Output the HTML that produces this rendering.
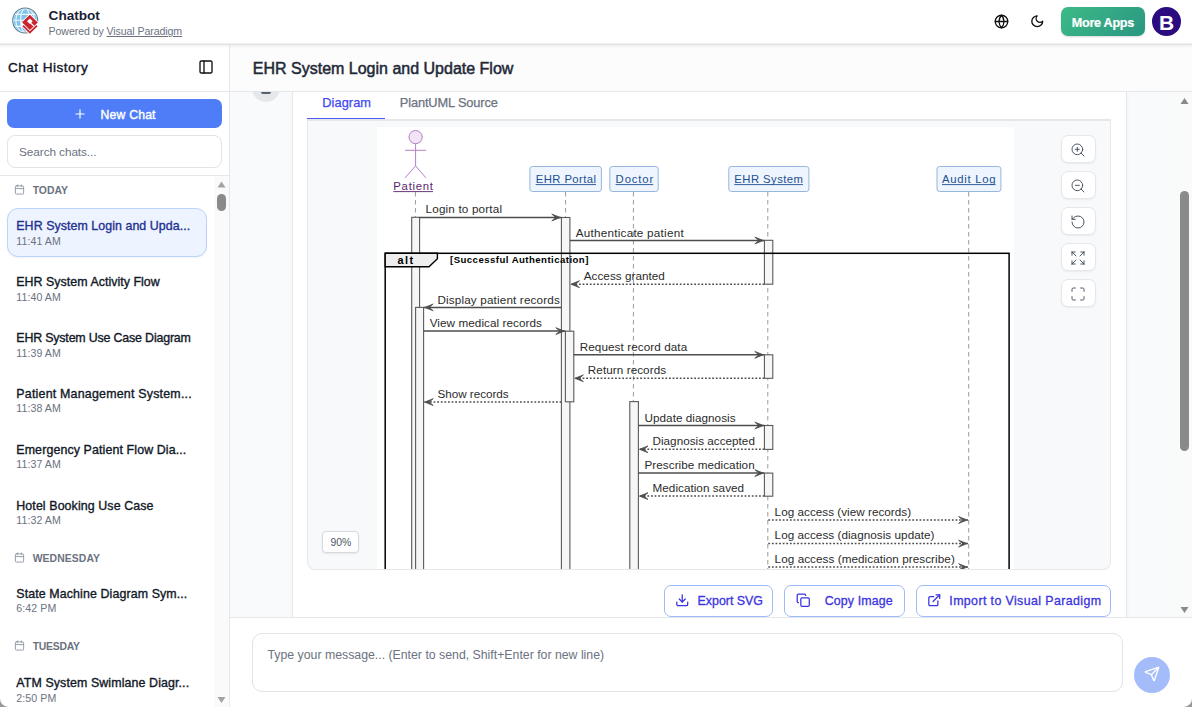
<!DOCTYPE html>
<html><head><meta charset="utf-8">
<style>
*{box-sizing:border-box;margin:0;padding:0}
html,body{width:1192px;height:707px;overflow:hidden;background:#fff;font-family:"Liberation Sans",sans-serif;color:#1f2937}
.abs{position:absolute}
.t{position:absolute;white-space:nowrap;line-height:1}
</style></head>
<body>
<div class="abs" style="left:0;top:0;width:1192px;height:45px;background:#fff;border-bottom:1px solid #e2e3e6;box-shadow:0 1px 3px rgba(0,0,0,.07), inset 0 -1px 0 #f0f1f3;z-index:5"></div>
<div class="abs" style="left:0;top:0;width:1192px;height:44px;z-index:6">
  <svg class="abs" style="left:0;top:0" width="44" height="44" viewBox="0 0 44 44">
    <defs><clipPath id="gc"><circle cx="25.2" cy="20.5" r="11.6"/></clipPath></defs>
    <circle cx="25.2" cy="20.5" r="12.5" fill="#f4fafe" stroke="#587d90" stroke-width="1.1"/>
    <g clip-path="url(#gc)">
      <rect x="13" y="8" width="25" height="25" fill="#7fc4ef"/>
      <g fill="none" stroke="#eef7fd" stroke-width="1.1">
        <path d="M12 14.4H38M12 20.3H38M12 26.4H38"/>
        <ellipse cx="25.2" cy="20.5" rx="4.6" ry="12"/>
        <ellipse cx="25.2" cy="20.5" rx="9.4" ry="12"/>
      </g>
    </g>
    <path d="M29.85 13.6L38.9 22.4L38.7 26.2L29.85 34.9L21.3 26.2L20.9 22.3Z" fill="#fff"/>
    <path d="M29.85 14.7L37.8 22.4L29.85 30.1L22 22.3Z" fill="#c9252f"/>
    <path d="M29.85 18.4L32.7 21.3L31.3 22.7L34.4 25.7L33.4 26.5L30.2 23.4L29.85 24L27 21.2Z" fill="#fff"/>
    <path d="M22.4 26.2L23.6 25.1L29.85 31.3L36.3 25L37.6 26.2L29.85 33.8Z" fill="#c9252f"/>
  </svg>
  <svg class="abs" style="left:993.6px;top:13.6px" width="15" height="15" viewBox="0 0 24 24" fill="none" stroke="#111" stroke-width="2.1" stroke-linecap="round" stroke-linejoin="round"><circle cx="12" cy="12" r="10"/><path d="M2 12h20"/><path d="M12 2a15.3 15.3 0 0 1 4 10 15.3 15.3 0 0 1-4 10 15.3 15.3 0 0 1-4-10 15.3 15.3 0 0 1 4-10z"/></svg>
  <svg class="abs" style="left:1029.9px;top:13.9px" width="14.5" height="14.5" viewBox="0 0 24 24" fill="none" stroke="#111" stroke-width="2.2" stroke-linecap="round" stroke-linejoin="round"><path d="M12 3a6 6 0 0 0 9 9 9 9 0 1 1-9-9Z"/></svg>
  <div class="abs" style="left:1061px;top:7px;width:84px;height:29px;border-radius:7px;background:linear-gradient(135deg,#3dbb87,#2a9682);box-shadow:0 1px 2px rgba(0,0,0,.15)"></div>
  <div class="abs" style="left:1152px;top:7px;width:29px;height:29px;border-radius:50%;background:#2b0b80"></div>
  <div class="t" style="left:1152px;top:11.5px;width:29px;text-align:center;font-size:21px;font-weight:bold;color:#fff">B</div>

<div class="t" style="left:48.6px;top:9.42px;font-size:13.6px;color:#1a2035;letter-spacing:-0.03px;font-weight:bold;">Chatbot</div>
<div class="t" style="left:48.6px;top:26.40px;font-size:10.6px;color:#6b7280;letter-spacing:-0.09px;">Powered by <span style="text-decoration:underline">Visual Paradigm</span></div>
<div class="t" style="left:1071.8px;top:16.98px;font-size:12.6px;color:#fff;letter-spacing:-0.27px;-webkit-text-stroke:0.2px #fff;font-weight:bold;">More Apps</div>
</div>
<div class="abs" style="left:0;top:44px;width:230px;height:663px;background:#fff;border-right:1px solid #e5e7eb"></div>
<div class="abs" style="left:0;top:91px;width:229px;height:1px;background:#e5e7eb"></div>
<svg class="abs" style="left:198px;top:59px" width="16" height="16" viewBox="0 0 24 24" fill="none" stroke="#111" stroke-width="2" stroke-linecap="round" stroke-linejoin="round"><rect width="18" height="18" x="3" y="3" rx="2"/><path d="M9 3v18"/></svg>
<div class="abs" style="left:7px;top:99px;width:215px;height:29px;border-radius:7px;background:#4f7cf7"></div>
<svg class="abs" style="left:73px;top:106.5px" width="14" height="14" viewBox="0 0 24 24" fill="none" stroke="#fff" stroke-width="2" stroke-linecap="round"><path d="M5 12h14M12 5v14"/></svg>
<div class="abs" style="left:7px;top:135px;width:215px;height:33px;border-radius:8px;border:1px solid #e0e3e8;background:#fff"></div>
<div class="abs" style="left:0;top:175px;width:229px;height:1px;background:#e5e7eb"></div>
<div class="abs" style="left:214px;top:176px;width:15px;height:531px;background:#fafafa"></div>
<svg class="abs" style="left:214px;top:176px" width="15" height="531"><path d="M3.5 11.5 L7.5 5.5 L11.5 11.5Z" fill="#a3a3a3"/><rect x="3" y="18" width="9" height="17" rx="4.5" fill="#8a8a8a"/><path d="M3.5 521 L7.5 527 L11.5 521Z" fill="#a3a3a3"/></svg>
<div class="t" style="left:7.9px;top:61.22px;font-size:13.6px;color:#111827;letter-spacing:0.47px;-webkit-text-stroke:0.4px #111827;">Chat History</div>
<div class="t" style="left:100.6px;top:108.95px;font-size:12.2px;color:#ffffff;letter-spacing:0.2px;-webkit-text-stroke:0.4px #ffffff;">New Chat</div>
<div class="t" style="left:19.1px;top:147.21px;font-size:11.8px;color:#6b7280;letter-spacing:-0.09px;">Search chats...</div>
<svg class="abs" style="left:14px;top:184.1px" width="11" height="11" viewBox="0 0 24 24" fill="none" stroke="#949baa" stroke-width="2.1" stroke-linecap="round" stroke-linejoin="round"><rect width="18" height="18" x="3" y="4" rx="2"/><path d="M16 2v4M8 2v4M3 10h18"/></svg>
<div class="t" style="left:32.7px;top:185.84px;font-size:10.4px;color:#6b7280;font-weight:bold;">TODAY</div>
<div class="abs" style="left:7px;top:208.2px;width:200px;height:48.5px;border-radius:11px;background:#eef4ff;border:1px solid #bcd3fb;box-shadow:0 1px 2px rgba(0,0,0,.06)"></div>
<div class="t" style="left:16.3px;top:219.92px;font-size:12.4px;color:#1f3190;letter-spacing:0.06px;-webkit-text-stroke:0.35px #1f3190;">EHR System Login and Upda...</div>
<div class="t" style="left:16.3px;top:235.70px;font-size:10.6px;color:#6b7280;letter-spacing:0.08px;">11:41 AM</div>
<div class="t" style="left:16.3px;top:276.22px;font-size:12.4px;color:#111827;letter-spacing:0.04px;-webkit-text-stroke:0.35px #111827;">EHR System Activity Flow</div>
<div class="t" style="left:16.3px;top:292.00px;font-size:10.6px;color:#6b7280;letter-spacing:0.08px;">11:40 AM</div>
<div class="t" style="left:16.3px;top:331.82px;font-size:12.4px;color:#111827;letter-spacing:-0.17px;-webkit-text-stroke:0.35px #111827;">EHR System Use Case Diagram</div>
<div class="t" style="left:16.3px;top:347.60px;font-size:10.6px;color:#6b7280;letter-spacing:0.08px;">11:39 AM</div>
<div class="t" style="left:16.3px;top:387.62px;font-size:12.4px;color:#111827;letter-spacing:0.22px;-webkit-text-stroke:0.35px #111827;">Patient Management System...</div>
<div class="t" style="left:16.3px;top:403.40px;font-size:10.6px;color:#6b7280;letter-spacing:0.08px;">11:38 AM</div>
<div class="t" style="left:16.3px;top:443.62px;font-size:12.4px;color:#111827;letter-spacing:0.12px;-webkit-text-stroke:0.35px #111827;">Emergency Patient Flow Dia...</div>
<div class="t" style="left:16.3px;top:459.40px;font-size:10.6px;color:#6b7280;letter-spacing:0.08px;">11:37 AM</div>
<div class="t" style="left:16.3px;top:499.62px;font-size:12.4px;color:#111827;letter-spacing:0.1px;-webkit-text-stroke:0.35px #111827;">Hotel Booking Use Case</div>
<div class="t" style="left:16.3px;top:515.40px;font-size:10.6px;color:#6b7280;letter-spacing:0.08px;">11:32 AM</div>
<svg class="abs" style="left:14px;top:552.3px" width="11" height="11" viewBox="0 0 24 24" fill="none" stroke="#949baa" stroke-width="2.1" stroke-linecap="round" stroke-linejoin="round"><rect width="18" height="18" x="3" y="4" rx="2"/><path d="M16 2v4M8 2v4M3 10h18"/></svg>
<div class="t" style="left:32.7px;top:554.04px;font-size:10.4px;color:#6b7280;letter-spacing:0.09px;font-weight:bold;">WEDNESDAY</div>
<div class="t" style="left:16.3px;top:587.52px;font-size:12.4px;color:#111827;letter-spacing:0.11px;-webkit-text-stroke:0.35px #111827;">State Machine Diagram Sym...</div>
<div class="t" style="left:16.3px;top:603.30px;font-size:10.6px;color:#6b7280;letter-spacing:0.08px;">6:42 PM</div>
<svg class="abs" style="left:14px;top:640.1px" width="11" height="11" viewBox="0 0 24 24" fill="none" stroke="#949baa" stroke-width="2.1" stroke-linecap="round" stroke-linejoin="round"><rect width="18" height="18" x="3" y="4" rx="2"/><path d="M16 2v4M8 2v4M3 10h18"/></svg>
<div class="t" style="left:32.7px;top:641.84px;font-size:10.4px;color:#6b7280;letter-spacing:-0.24px;font-weight:bold;">TUESDAY</div>
<div class="t" style="left:16.3px;top:676.72px;font-size:12.4px;color:#111827;letter-spacing:0.11px;-webkit-text-stroke:0.35px #111827;">ATM System Swimlane Diagr...</div>
<div class="t" style="left:16.3px;top:692.50px;font-size:10.6px;color:#6b7280;letter-spacing:0.08px;">2:50 PM</div>
<div class="abs" style="left:230px;top:44px;width:962px;height:47px;background:#fcfcfd"></div>
<div class="t" style="left:252.8px;top:61.44px;font-size:16px;color:#1f2937;-webkit-text-stroke:0.5px #1f2937;">EHR System Login and Update Flow</div>
<div class="abs" style="left:230px;top:91px;width:962px;height:1px;background:#e5e7eb"></div>
<div class="abs" style="left:230px;top:92px;width:962px;height:526px;background:#f9fafb;overflow:hidden">
  <div class="abs" style="left:22px;top:-18px;width:28px;height:28px;border-radius:50%;background:#e5e7eb"></div>
  <div class="abs" style="left:30.8px;top:-1px;width:10.7px;height:2.8px;border-radius:0 0 2px 2px;background:#566070"></div>
  <div class="abs" style="left:62px;top:0;width:835px;height:526px;background:#fff;border-left:1px solid #e5e7eb;border-right:1px solid #e5e7eb;box-shadow:0 0 6px rgba(0,0,0,.035)"></div>
</div>
<div class="abs" style="left:307px;top:119px;width:804px;height:451px;background:#f8f9fb;border:1px solid #e5e7eb;border-top:2px solid #e5e7eb;border-radius:0 0 8px 8px"></div>
<div class="abs" style="left:307px;top:117.6px;width:78px;height:1.6px;background:#4a5cf5"></div>
<div class="abs" style="left:377px;top:127px;width:637px;height:442px;overflow:hidden;background:#fff">
<svg style="position:absolute;left:-377px;top:-127px" width="1192" height="707" viewBox="0 0 1192 707" font-family="Liberation Sans, sans-serif">
<line x1="415.4" y1="192" x2="415.4" y2="600" stroke="#9a9a9a" stroke-width="1" stroke-dasharray="4.5,3.5"/>
<line x1="565.6" y1="192" x2="565.6" y2="600" stroke="#9a9a9a" stroke-width="1" stroke-dasharray="4.5,3.5"/>
<line x1="633.4" y1="192" x2="633.4" y2="600" stroke="#9a9a9a" stroke-width="1" stroke-dasharray="4.5,3.5"/>
<line x1="767.8" y1="192" x2="767.8" y2="600" stroke="#9a9a9a" stroke-width="1" stroke-dasharray="4.5,3.5"/>
<line x1="968.7" y1="192" x2="968.7" y2="600" stroke="#9a9a9a" stroke-width="1" stroke-dasharray="4.5,3.5"/>
<circle cx="415.6" cy="137.1" r="6.6" fill="#f1e5f5" stroke="#b47fc9" stroke-width="1"/>
<path d="M415.6 143.7V165.9M405 150.3H426M405 177.9L415.6 165.9L426 177.9" fill="none" stroke="#b47fc9" stroke-width="1"/>
<text x="393.3" y="190" font-size="11.3" fill="#5b1f6e" textLength="39.7" lengthAdjust="spacing">Patient</text>
<line x1="393.3" y1="191.6" x2="433" y2="191.6" stroke="#5b1f6e" stroke-width="0.9"/>
<rect x="529.9" y="166.5" width="71.5" height="25" rx="2.5" fill="#eef5fe" stroke="#96b6dc" stroke-width="1"/>
<text x="535.7" y="182.8" font-size="11.3" fill="#1d4f91" textLength="60.3" lengthAdjust="spacing">EHR Portal</text>
<line x1="535.7" y1="184.6" x2="596.0" y2="184.6" stroke="#1d4f91" stroke-width="0.9"/>
<rect x="609.8" y="166.5" width="48.40000000000009" height="25" rx="2.5" fill="#eef5fe" stroke="#96b6dc" stroke-width="1"/>
<text x="615.6" y="182.8" font-size="11.3" fill="#1d4f91" textLength="37.6" lengthAdjust="spacing">Doctor</text>
<line x1="615.6" y1="184.6" x2="653.2" y2="184.6" stroke="#1d4f91" stroke-width="0.9"/>
<rect x="728.8" y="166.5" width="80.10000000000002" height="25" rx="2.5" fill="#eef5fe" stroke="#96b6dc" stroke-width="1"/>
<text x="734.3" y="182.8" font-size="11.3" fill="#1d4f91" textLength="68.7" lengthAdjust="spacing">EHR System</text>
<line x1="734.3" y1="184.6" x2="803.0" y2="184.6" stroke="#1d4f91" stroke-width="0.9"/>
<rect x="937.0" y="166.5" width="63.89999999999998" height="25" rx="2.5" fill="#eef5fe" stroke="#96b6dc" stroke-width="1"/>
<text x="942" y="182.8" font-size="11.3" fill="#1d4f91" textLength="53.6" lengthAdjust="spacing">Audit Log</text>
<line x1="942" y1="184.6" x2="995.6" y2="184.6" stroke="#1d4f91" stroke-width="0.9"/>
<rect x="411.7" y="217.3" width="7.900000000000034" height="422.7" fill="#f6f6f6" stroke="#5a5a5a" stroke-width="1.1"/>
<rect x="415.6" y="307.4" width="8.0" height="332.6" fill="#f6f6f6" stroke="#5a5a5a" stroke-width="1.1"/>
<rect x="561.4" y="217.5" width="8.5" height="422.5" fill="#f6f6f6" stroke="#5a5a5a" stroke-width="1.1"/>
<rect x="565.4" y="331.2" width="8.399999999999977" height="70.60000000000002" fill="#f6f6f6" stroke="#5a5a5a" stroke-width="1.1"/>
<rect x="764.4" y="240.3" width="8.399999999999977" height="43.89999999999998" fill="#f6f6f6" stroke="#5a5a5a" stroke-width="1.1"/>
<rect x="764.4" y="354.8" width="8.399999999999977" height="23.5" fill="#f6f6f6" stroke="#5a5a5a" stroke-width="1.1"/>
<rect x="764.4" y="425.5" width="8.399999999999977" height="23.899999999999977" fill="#f6f6f6" stroke="#5a5a5a" stroke-width="1.1"/>
<rect x="764.4" y="473.1" width="8.399999999999977" height="23.099999999999966" fill="#f6f6f6" stroke="#5a5a5a" stroke-width="1.1"/>
<rect x="629.8" y="401.6" width="8.600000000000023" height="238.39999999999998" fill="#f6f6f6" stroke="#5a5a5a" stroke-width="1.1"/>
<text x="425.6" y="213.1" font-size="11.7" fill="#2b2b2b" textLength="76.4" lengthAdjust="spacing">Login to portal</text>
<line x1="419.6" y1="217.5" x2="561.4" y2="217.5" stroke="#4d4d4d" stroke-width="1.5"/>
<path d="M551.8 214.1L560.4 217.5L551.8 220.9L555.8 217.5Z" fill="#4d4d4d" stroke="#4d4d4d" stroke-width="0.8" stroke-linejoin="miter"/>
<text x="575.7" y="236.8" font-size="11.7" fill="#2b2b2b" textLength="108" lengthAdjust="spacing">Authenticate patient</text>
<line x1="569.9" y1="240.5" x2="764.4" y2="240.5" stroke="#4d4d4d" stroke-width="1.5"/>
<path d="M754.8 237.1L763.4 240.5L754.8 243.9L758.8 240.5Z" fill="#4d4d4d" stroke="#4d4d4d" stroke-width="0.8" stroke-linejoin="miter"/>
<text x="583.8" y="280.2" font-size="11.7" fill="#2b2b2b" textLength="81" lengthAdjust="spacing">Access granted</text>
<line x1="764.4" y1="284.2" x2="569.9" y2="284.2" stroke="#4d4d4d" stroke-width="1.5" stroke-dasharray="1.8,1.8"/>
<path d="M579.5 280.8L570.9 284.2L579.5 287.59999999999997L575.5 284.2Z" fill="#4d4d4d" stroke="#4d4d4d" stroke-width="0.8" stroke-linejoin="miter"/>
<text x="437.4" y="303.7" font-size="11.7" fill="#2b2b2b" textLength="122.4" lengthAdjust="spacing">Display patient records</text>
<line x1="561.4" y1="307.4" x2="423.6" y2="307.4" stroke="#4d4d4d" stroke-width="1.5"/>
<path d="M433.20000000000005 304.0L424.6 307.4L433.20000000000005 310.79999999999995L429.20000000000005 307.4Z" fill="#4d4d4d" stroke="#4d4d4d" stroke-width="0.8" stroke-linejoin="miter"/>
<text x="429.7" y="326.8" font-size="11.7" fill="#2b2b2b" textLength="112.2" lengthAdjust="spacing">View medical records</text>
<line x1="423.6" y1="331.1" x2="565.4" y2="331.1" stroke="#4d4d4d" stroke-width="1.5"/>
<path d="M555.8 327.70000000000005L564.4 331.1L555.8 334.5L559.8 331.1Z" fill="#4d4d4d" stroke="#4d4d4d" stroke-width="0.8" stroke-linejoin="miter"/>
<text x="579.7" y="350.5" font-size="11.7" fill="#2b2b2b" textLength="107.5" lengthAdjust="spacing">Request record data</text>
<line x1="573.8" y1="354.8" x2="764.4" y2="354.8" stroke="#4d4d4d" stroke-width="1.5"/>
<path d="M754.8 351.40000000000003L763.4 354.8L754.8 358.2L758.8 354.8Z" fill="#4d4d4d" stroke="#4d4d4d" stroke-width="0.8" stroke-linejoin="miter"/>
<text x="587.8" y="373.9" font-size="11.7" fill="#2b2b2b" textLength="78.3" lengthAdjust="spacing">Return records</text>
<line x1="764.4" y1="378.3" x2="573.8" y2="378.3" stroke="#4d4d4d" stroke-width="1.5" stroke-dasharray="1.8,1.8"/>
<path d="M583.4 374.90000000000003L574.8 378.3L583.4 381.7L579.4 378.3Z" fill="#4d4d4d" stroke="#4d4d4d" stroke-width="0.8" stroke-linejoin="miter"/>
<text x="437.4" y="397.9" font-size="11.7" fill="#2b2b2b" textLength="71.3" lengthAdjust="spacing">Show records</text>
<line x1="561.4" y1="402.1" x2="423.6" y2="402.1" stroke="#4d4d4d" stroke-width="1.5" stroke-dasharray="1.8,1.8"/>
<path d="M433.20000000000005 398.70000000000005L424.6 402.1L433.20000000000005 405.5L429.20000000000005 402.1Z" fill="#4d4d4d" stroke="#4d4d4d" stroke-width="0.8" stroke-linejoin="miter"/>
<text x="644.5" y="422.1" font-size="11.7" fill="#2b2b2b" textLength="91" lengthAdjust="spacing">Update diagnosis</text>
<line x1="638.4" y1="425.5" x2="764.4" y2="425.5" stroke="#4d4d4d" stroke-width="1.5"/>
<path d="M754.8 422.1L763.4 425.5L754.8 428.9L758.8 425.5Z" fill="#4d4d4d" stroke="#4d4d4d" stroke-width="0.8" stroke-linejoin="miter"/>
<text x="652.5" y="444.8" font-size="11.7" fill="#2b2b2b" textLength="102.4" lengthAdjust="spacing">Diagnosis accepted</text>
<line x1="764.4" y1="449.3" x2="638.4" y2="449.3" stroke="#4d4d4d" stroke-width="1.5" stroke-dasharray="1.8,1.8"/>
<path d="M648.0 445.90000000000003L639.4 449.3L648.0 452.7L644.0 449.3Z" fill="#4d4d4d" stroke="#4d4d4d" stroke-width="0.8" stroke-linejoin="miter"/>
<text x="644.5" y="468.5" font-size="11.7" fill="#2b2b2b" textLength="110.2" lengthAdjust="spacing">Prescribe medication</text>
<line x1="638.4" y1="473.1" x2="764.4" y2="473.1" stroke="#4d4d4d" stroke-width="1.5"/>
<path d="M754.8 469.70000000000005L763.4 473.1L754.8 476.5L758.8 473.1Z" fill="#4d4d4d" stroke="#4d4d4d" stroke-width="0.8" stroke-linejoin="miter"/>
<text x="652.5" y="491.7" font-size="11.7" fill="#2b2b2b" textLength="91.6" lengthAdjust="spacing">Medication saved</text>
<line x1="764.4" y1="496.1" x2="638.4" y2="496.1" stroke="#4d4d4d" stroke-width="1.5" stroke-dasharray="1.8,1.8"/>
<path d="M648.0 492.70000000000005L639.4 496.1L648.0 499.5L644.0 496.1Z" fill="#4d4d4d" stroke="#4d4d4d" stroke-width="0.8" stroke-linejoin="miter"/>
<text x="774.6" y="515.7" font-size="11.7" fill="#2b2b2b" textLength="136.5" lengthAdjust="spacing">Log access (view records)</text>
<line x1="768.3" y1="520" x2="968.2" y2="520" stroke="#4d4d4d" stroke-width="1.5" stroke-dasharray="1.8,1.8"/>
<path d="M958.6 516.6L967.2 520L958.6 523.4L962.6 520Z" fill="#4d4d4d" stroke="#4d4d4d" stroke-width="0.8" stroke-linejoin="miter"/>
<text x="774.6" y="539.3" font-size="11.7" fill="#2b2b2b" textLength="159.9" lengthAdjust="spacing">Log access (diagnosis update)</text>
<line x1="768.3" y1="543.6" x2="968.2" y2="543.6" stroke="#4d4d4d" stroke-width="1.5" stroke-dasharray="1.8,1.8"/>
<path d="M958.6 540.2L967.2 543.6L958.6 547.0L962.6 543.6Z" fill="#4d4d4d" stroke="#4d4d4d" stroke-width="0.8" stroke-linejoin="miter"/>
<text x="774.6" y="562.7" font-size="11.7" fill="#2b2b2b" textLength="180.2" lengthAdjust="spacing">Log access (medication prescribe)</text>
<line x1="768.3" y1="567.1" x2="968.2" y2="567.1" stroke="#4d4d4d" stroke-width="1.5" stroke-dasharray="1.8,1.8"/>
<path d="M958.6 563.7L967.2 567.1L958.6 570.5L962.6 567.1Z" fill="#4d4d4d" stroke="#4d4d4d" stroke-width="0.8" stroke-linejoin="miter"/>
<rect x="385.2" y="253.3" width="623.9" height="400" fill="none" stroke="#000" stroke-width="1.5"/>
<path d="M385.2 253.3H437.4V258.7L429 266.8H385.2Z" fill="#eeeeee" stroke="#000" stroke-width="1.4"/>
<text x="397.6" y="263.9" font-size="10.9" font-weight="bold" fill="#000" textLength="15.6" lengthAdjust="spacing">alt</text>
<text x="450" y="263.3" font-size="9.6" font-weight="bold" fill="#000" textLength="138.4" lengthAdjust="spacing">[Successful Authentication]</text>
</svg>
</div>
<div class="t" style="left:322.3px;top:96.95px;font-size:12.8px;color:#4048f2;letter-spacing:0.05px;-webkit-text-stroke:0.25px #4048f2;">Diagram</div>
<div class="t" style="left:399.8px;top:96.95px;font-size:12.8px;color:#6b7280;letter-spacing:-0.13px;-webkit-text-stroke:0.25px #6b7280;">PlantUML Source</div>
<div class="abs" style="left:1061px;top:135px;width:34.5px;height:28px;border-radius:7px;background:#fff;border:1px solid #e5e7eb;box-shadow:0 1px 2px rgba(0,0,0,.06)"></div>
<svg class="abs" style="left:1070.3px;top:141.5px" width="16" height="16" viewBox="0 0 24 24" fill="none" stroke="#4b5563" stroke-width="1.5" stroke-linecap="round" stroke-linejoin="round"><circle cx="11" cy="11" r="8"/><line x1="21" x2="16.65" y1="21" y2="16.65"/><line x1="11" x2="11" y1="8" y2="14"/><line x1="8" x2="14" y1="11" y2="11"/></svg>
<div class="abs" style="left:1061px;top:171px;width:34.5px;height:28px;border-radius:7px;background:#fff;border:1px solid #e5e7eb;box-shadow:0 1px 2px rgba(0,0,0,.06)"></div>
<svg class="abs" style="left:1070.3px;top:177.6px" width="16" height="16" viewBox="0 0 24 24" fill="none" stroke="#4b5563" stroke-width="1.5" stroke-linecap="round" stroke-linejoin="round"><circle cx="11" cy="11" r="8"/><line x1="21" x2="16.65" y1="21" y2="16.65"/><line x1="8" x2="14" y1="11" y2="11"/></svg>
<div class="abs" style="left:1061px;top:207px;width:34.5px;height:28px;border-radius:7px;background:#fff;border:1px solid #e5e7eb;box-shadow:0 1px 2px rgba(0,0,0,.06)"></div>
<svg class="abs" style="left:1070.3px;top:213.7px" width="16" height="16" viewBox="0 0 24 24" fill="none" stroke="#4b5563" stroke-width="1.5" stroke-linecap="round" stroke-linejoin="round"><path d="M3 12a9 9 0 1 0 9-9 9.75 9.75 0 0 0-6.74 2.74L3 8"/><path d="M3 3v5h5"/></svg>
<div class="abs" style="left:1061px;top:243px;width:34.5px;height:28px;border-radius:7px;background:#fff;border:1px solid #e5e7eb;box-shadow:0 1px 2px rgba(0,0,0,.06)"></div>
<svg class="abs" style="left:1070.3px;top:249.8px" width="16" height="16" viewBox="0 0 24 24" fill="none" stroke="#4b5563" stroke-width="1.5" stroke-linecap="round" stroke-linejoin="round"><path d="m21 21-6-6m6 6v-4.8m0 4.8h-4.8"/><path d="M3 16.2V21m0 0h4.8M3 21l6-6"/><path d="M21 7.8V3m0 0h-4.8M21 3l-6 6"/><path d="M3 7.8V3m0 0h4.8M3 3l6 6"/></svg>
<div class="abs" style="left:1061px;top:279px;width:34.5px;height:28px;border-radius:7px;background:#fff;border:1px solid #e5e7eb;box-shadow:0 1px 2px rgba(0,0,0,.06)"></div>
<svg class="abs" style="left:1070.3px;top:285.9px" width="16" height="16" viewBox="0 0 24 24" fill="none" stroke="#4b5563" stroke-width="1.5" stroke-linecap="round" stroke-linejoin="round"><path d="M8 3H5a2 2 0 0 0-2 2v3"/><path d="M21 8V5a2 2 0 0 0-2-2h-3"/><path d="M3 16v3a2 2 0 0 0 2 2h3"/><path d="M16 21h3a2 2 0 0 0 2-2v-3"/></svg>
<div class="abs" style="left:322px;top:531.3px;width:36.5px;height:22px;border-radius:4px;background:#fff;border:1px solid #d5d9e0;box-shadow:0 1px 2px rgba(0,0,0,.08)"></div>
<div class="t" style="left:330.6px;top:537.94px;font-size:10.4px;color:#4b5563;letter-spacing:-0.13px;">90%</div>
<div class="abs" style="left:664.2px;top:584.5px;width:108.6px;height:32px;border-radius:7px;background:#fff;border:1px solid #9dbbf7"></div>
<svg class="abs" style="left:674.9px;top:592.9px" width="14.5" height="14.5" viewBox="0 0 24 24" fill="none" stroke="#3b34e0" stroke-width="2.1" stroke-linecap="round" stroke-linejoin="round"><path d="M21 15v4a2 2 0 0 1-2 2H5a2 2 0 0 1-2-2v-4"/><polyline points="7 10 12 15 17 10"/><line x1="12" x2="12" y1="15" y2="3"/></svg>
<div class="t" style="left:697.5px;top:594.62px;font-size:12.4px;color:#3b34e0;letter-spacing:0.01px;-webkit-text-stroke:0.3px #3b34e0;">Export SVG</div>
<div class="abs" style="left:784.3px;top:584.5px;width:120.4px;height:32px;border-radius:7px;background:#fff;border:1px solid #9dbbf7"></div>
<svg class="abs" style="left:796.2px;top:592.9px" width="14.5" height="14.5" viewBox="0 0 24 24" fill="none" stroke="#3b34e0" stroke-width="2.1" stroke-linecap="round" stroke-linejoin="round"><rect width="14" height="14" x="8" y="8" rx="2" ry="2"/><path d="M4 16c-1.1 0-2-.9-2-2V4c0-1.1.9-2 2-2h10c1.1 0 2 .9 2 2"/></svg>
<div class="t" style="left:824.7px;top:594.62px;font-size:12.4px;color:#3b34e0;letter-spacing:0.12px;-webkit-text-stroke:0.3px #3b34e0;">Copy Image</div>
<div class="abs" style="left:916.1px;top:584.5px;width:194.7px;height:32px;border-radius:7px;background:#fff;border:1px solid #9dbbf7"></div>
<svg class="abs" style="left:926.8px;top:592.9px" width="14.5" height="14.5" viewBox="0 0 24 24" fill="none" stroke="#3b34e0" stroke-width="2.1" stroke-linecap="round" stroke-linejoin="round"><path d="M15 3h6v6"/><path d="M10 14 21 3"/><path d="M18 13v6a2 2 0 0 1-2 2H5a2 2 0 0 1-2-2V8a2 2 0 0 1 2-2h6"/></svg>
<div class="t" style="left:949.3px;top:594.62px;font-size:12.4px;color:#3b34e0;letter-spacing:0.39px;-webkit-text-stroke:0.3px #3b34e0;">Import to Visual Paradigm</div>
<div class="abs" style="left:1177px;top:92px;width:15px;height:526px;background:#fafafa"></div>
<svg class="abs" style="left:1177px;top:92px" width="15" height="526"><path d="M3.5 12 L7.5 6 L11.5 12Z" fill="#8a8a8a"/><rect x="3" y="99" width="9" height="260" rx="4.5" fill="#8a8a8a"/><path d="M3.5 515 L7.5 521 L11.5 515Z" fill="#8a8a8a"/></svg>
<div class="abs" style="left:230px;top:617px;width:962px;height:1px;background:#e5e7eb"></div>
<div class="abs" style="left:252.4px;top:633.4px;width:871px;height:59px;border-radius:10px;border:1px solid #e0e3e8;background:#fff"></div>
<div class="abs" style="left:1134px;top:657px;width:36px;height:36px;border-radius:50%;background:#a5bcfb"></div>
<svg class="abs" style="left:1144px;top:666px" width="16" height="16" viewBox="0 0 24 24" fill="none" stroke="#fff" stroke-width="2" stroke-linecap="round" stroke-linejoin="round"><path d="M14.536 21.686a.5.5 0 0 0 .937-.024l6.5-19a.496.496 0 0 0-.635-.635l-19 6.5a.5.5 0 0 0-.024.937l7.93 3.18a2 2 0 0 1 1.112 1.11z"/><path d="m21.854 2.147-10.94 10.939"/></svg>
<div class="t" style="left:267.5px;top:648.93px;font-size:12.3px;color:#6b7280;">Type your message... (Enter to send, Shift+Enter for new line)</div>
<svg class="abs" style="left:0;top:0;z-index:20;pointer-events:none" width="1192" height="707"><path d="M0 698.5A8.5 8.5 0 0 0 8.5 707H0Z" fill="#9a9a9a"/><path d="M1192 698.5A8.5 8.5 0 0 1 1183.5 707H1192Z" fill="#9a9a9a"/></svg>
</body></html>
